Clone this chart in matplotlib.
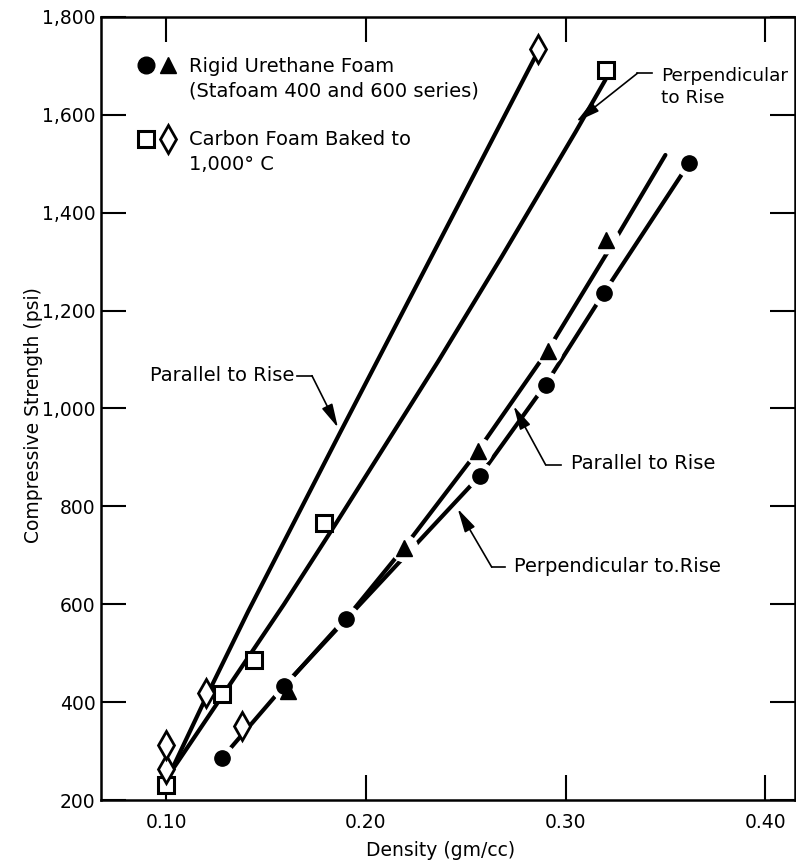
import matplotlib
matplotlib.use('Agg')
import matplotlib.pyplot as plt

plt.rcParams['font.family'] = ['DejaVu Sans']

# ---- data ----
# Rigid urethane foam, perpendicular to rise (circles)
ure_perp_x = [0.128, 0.159, 0.190, 0.257, 0.290, 0.319, 0.362]
ure_perp_y = [286, 433, 569, 862, 1049, 1235, 1502]
# Rigid urethane foam, parallel to rise (triangles)
ure_par_x = [0.161, 0.219, 0.256, 0.291, 0.320]
ure_par_y = [423, 715, 913, 1118, 1344]
# Carbon foam, perpendicular to rise (squares)
carb_perp_x = [0.100, 0.128, 0.144, 0.179, 0.320]
carb_perp_y = [230, 417, 487, 767, 1691]
# Carbon foam, parallel to rise (diamonds)
carb_par_x = [0.100, 0.100, 0.120, 0.138, 0.286]
carb_par_y = [263, 312, 419, 351, 1735]

# Faired curves
ure_perp_curve_x = [0.128, 0.159, 0.190, 0.257, 0.290, 0.319, 0.362]
ure_perp_curve_y = [286, 433, 569, 862, 1049, 1235, 1502]
ure_par_curve_x = [0.159, 0.194, 0.219, 0.256, 0.291, 0.325, 0.350]
ure_par_curve_y = [432, 590, 715, 913, 1118, 1346, 1518]
carb_perp_curve_x = [0.102, 0.159, 0.185, 0.236, 0.268, 0.305, 0.320]
carb_perp_curve_y = [255, 600, 765, 1095, 1310, 1565, 1672]
carb_par_curve_x = [0.102, 0.120, 0.141, 0.187, 0.236, 0.286]
carb_par_curve_y = [255, 410, 585, 950, 1335, 1728]

x_ticks = [0.10, 0.20, 0.30, 0.40]
x_tick_labels = ['0.10', '0.20', '0.30', '0.40']
y_ticks = [200, 400, 600, 800, 1000, 1200, 1400, 1600, 1800]
y_tick_labels = ['200', '400', '600', '800', '1,000', '1,200', '1,400', '1,600', '1,800']

fig = plt.figure(figsize=(7.96, 8.66), dpi=100)
ax = fig.add_axes([0.127, 0.0762, 0.872, 0.9042])
ax.set_xlim(0.0674, 0.415)
ax.set_ylim(200, 1800)

LW = 3.0
# curves
for cx, cy in [(carb_par_curve_x, carb_par_curve_y), (carb_perp_curve_x, carb_perp_curve_y),
               (ure_par_curve_x, ure_par_curve_y), (ure_perp_curve_x, ure_perp_curve_y)]:
    ax.plot(cx, cy, color='black', lw=LW, zorder=2, solid_capstyle='round', solid_joinstyle='round')

# white halos that break the urethane curves around their points
ax.plot(ure_par_x, ure_par_y, ls='none', marker='o', ms=19, mfc='white', mec='white', zorder=3)
ax.plot(ure_perp_x, ure_perp_y, ls='none', marker='o', ms=19, mfc='white', mec='white', zorder=3)

# markers
ax.plot(ure_par_x, ure_par_y, ls='none', marker='^', ms=11, mfc='black', mec='black', zorder=4)
ax.plot(ure_perp_x, ure_perp_y, ls='none', marker='o', ms=11, mfc='black', mec='black', zorder=5)
ax.plot(carb_perp_x, carb_perp_y, ls='none', marker='s', ms=12, mfc='white', mec='black', mew=2.2, zorder=6)
ax.plot(carb_par_x, carb_par_y, ls='none', marker='d', ms=14, mfc='white', mec='black', mew=2.0, zorder=6)

# axes styling
for s in ax.spines.values():
    s.set_linewidth(1.8)
ax.set_xticks(x_ticks)
ax.set_xticklabels(x_tick_labels)
ax.set_yticks(y_ticks)
ax.set_yticklabels(y_tick_labels)
ax.tick_params(axis='both', direction='in', length=18, width=1.5,
               top=True, right=True, labelsize=13.5)
ax.tick_params(axis='x', pad=9)
ax.tick_params(axis='y', pad=4)

fig.text(0.553, 0.018, 'Density (gm/cc)', ha='center', va='center', fontsize=13.5)
fig.text(0.042, 0.521, 'Compressive Strength (psi)', ha='center', va='center',
         rotation=90, fontsize=13.5)

# legend block
ax.plot([0.0648], [0.9387], transform=ax.transAxes, marker='o', ms=12, color='black', clip_on=False)
ax.plot([0.0965], [0.9387], transform=ax.transAxes, marker='^', ms=12, color='black', clip_on=False)
ax.text(0.1268, 0.9215, 'Rigid Urethane Foam\n(Stafoam 400 and 600 series)', transform=ax.transAxes,
        ha='left', va='center', fontsize=14, linespacing=1.35)
ax.plot([0.0648], [0.8442], transform=ax.transAxes, marker='s', ms=12, mfc='white', mec='black', mew=2.2)
ax.plot([0.0965], [0.8442], transform=ax.transAxes, marker='d', ms=14, mfc='white', mec='black', mew=2.0)
ax.text(0.1268, 0.8275, 'Carbon Foam Baked to\n1,000° C', transform=ax.transAxes,
        ha='left', va='center', fontsize=14, linespacing=1.35)

# leader annotations
def leader(text, txt_xy, ha, h_start, knee, tip, ls=1.2, fs=14):
    ax.text(txt_xy[0], txt_xy[1], text, ha=ha, va='center', fontsize=fs, linespacing=ls, zorder=7)
    ax.plot([h_start[0], knee[0]], [h_start[1], knee[1]], color='black', lw=1.2, zorder=7)
    ax.annotate('', xy=tip, xytext=knee,
                arrowprops=dict(arrowstyle='-|>,head_length=0.9,head_width=0.22', color='black', lw=1.2,
                                mutation_scale=16, shrinkA=0, shrinkB=0), zorder=7)

leader('Parallel to Rise', (0.164, 1067), 'right',
       (0.1655, 1067), (0.173, 1067), (0.186, 961))
leader('Perpendicular\nto Rise', (0.348, 1657), 'left',
       (0.3435, 1685), (0.336, 1685), (0.3054, 1586), ls=1.35, fs=13.3)
leader('Parallel to Rise', (0.3025, 887), 'left',
       (0.2975, 885), (0.290, 885), (0.274, 1005))
leader('Perpendicular to.Rise', (0.274, 678), 'left',
       (0.2695, 676), (0.263, 676), (0.246, 795))

fig.savefig('out.png', dpi=100)
